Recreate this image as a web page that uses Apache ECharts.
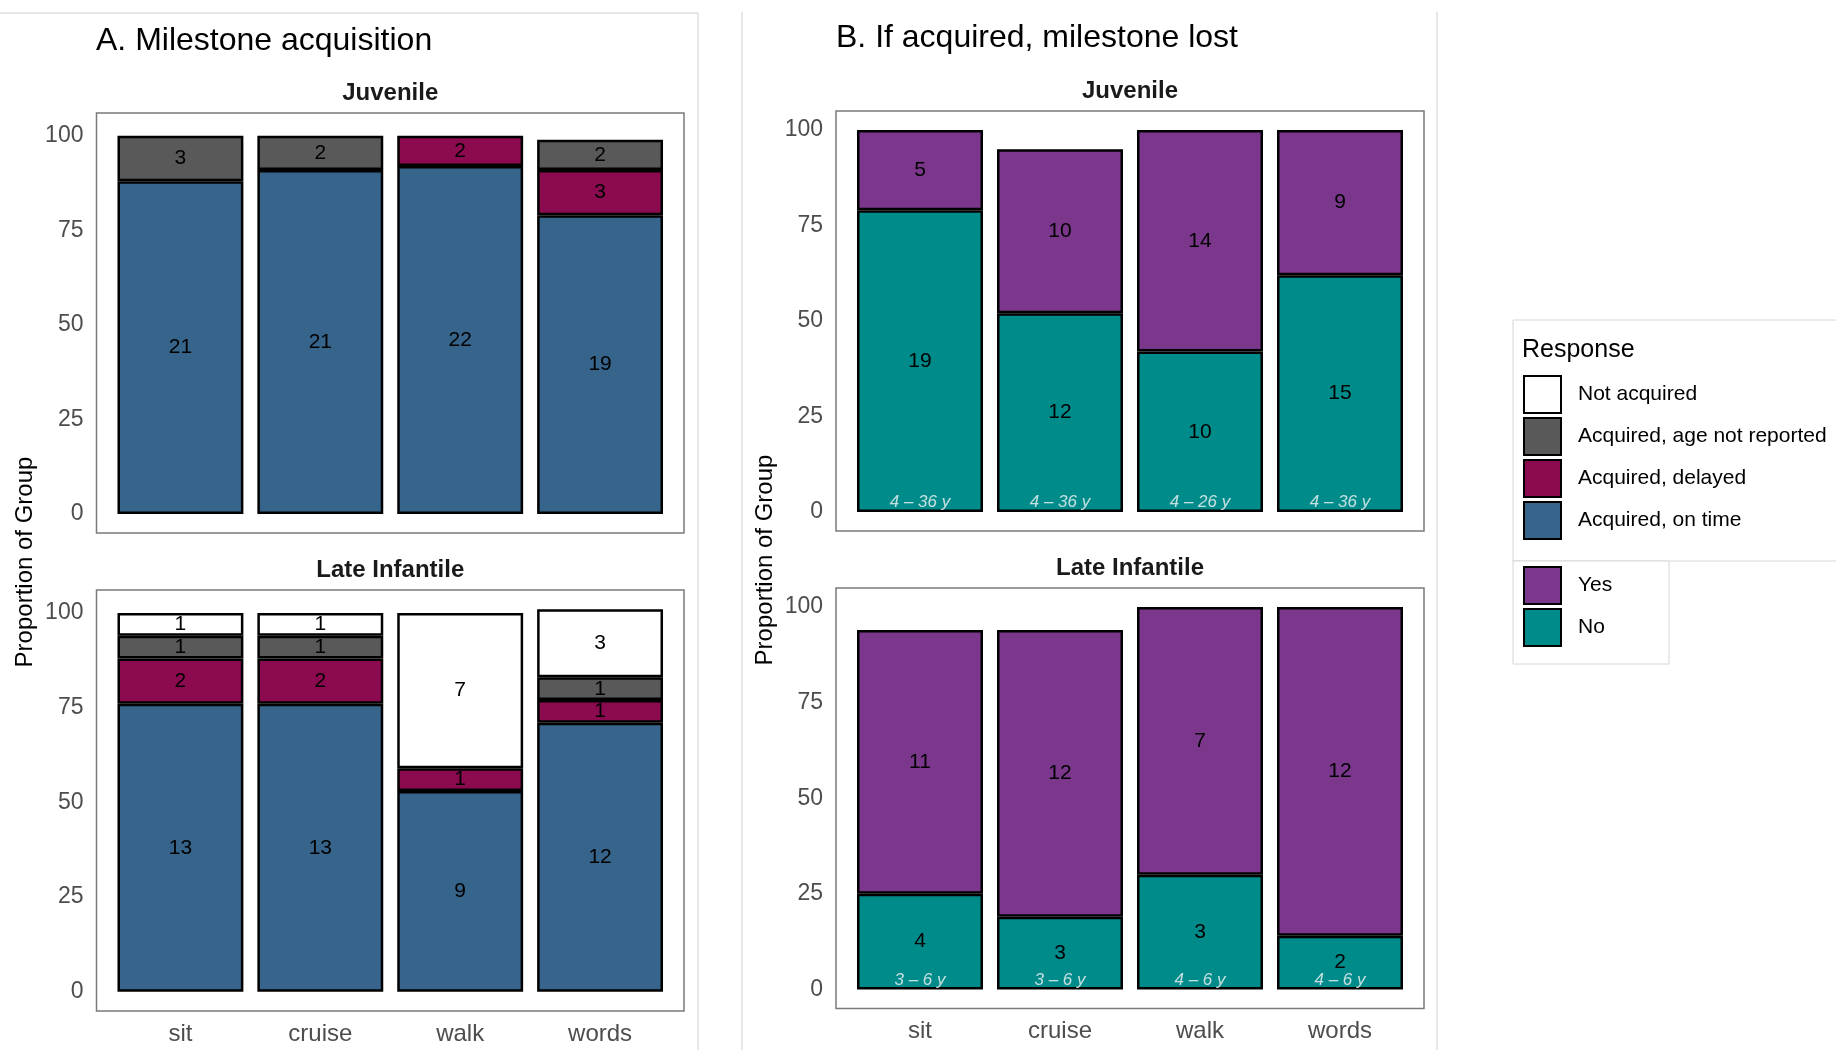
<!DOCTYPE html>
<html>
<head>
<meta charset="utf-8">
<script src="https://cdn.jsdelivr.net/npm/echarts@6/dist/echarts.min.js"></script>
<style>
  html, body { margin: 0; padding: 0; background: #ffffff; }
  #chart { width: 1836px; height: 1050px; }
</style>
</head>
<body>
<div id="chart"></div>
<script>
// ---------------- DATA ----------------
const categories = ['sit', 'cruise', 'walk', 'words'];
const yTicks = [0, 25, 50, 75, 100];

// Panel A: milestone acquisition (percent of group, and counts shown in bars)
const aJuvOnTimePct   = [88, 91, 92, 79];
const aJuvOnTimeN     = [21, 21, 22, 19];
const aJuvDelayedPct  = [null, null, 8, 12];
const aJuvDelayedN    = [null, null, 2, 3];
const aJuvNoAgePct    = [12, 9, null, 8];
const aJuvNoAgeN      = [3, 2, null, 2];
const aJuvNotAcqPct   = [null, null, null, null];
const aJuvNotAcqN     = [null, null, null, null];

const aLiOnTimePct    = [76, 76, 53, 71];
const aLiOnTimeN      = [13, 13, 9, 12];
const aLiDelayedPct   = [12, 12, 6, 6];
const aLiDelayedN     = [2, 2, 1, 1];
const aLiNoAgePct     = [6, 6, null, 6];
const aLiNoAgeN       = [1, 1, null, 1];
const aLiNotAcqPct    = [6, 6, 41, 18];
const aLiNotAcqN      = [1, 1, 7, 3];

// Panel B: if acquired, milestone lost
const bJuvNoPct  = [79, 52, 42, 62];
const bJuvNoN    = [19, 12, 10, 15];
const bJuvYesPct = [21, 43, 58, 38];
const bJuvYesN   = [5, 10, 14, 9];
const bJuvAges   = ['4 – 36 y', '4 – 36 y', '4 – 26 y', '4 – 36 y'];

const bLiNoPct   = [25, 19, 30, 14];
const bLiNoN     = [4, 3, 3, 2];
const bLiYesPct  = [69, 75, 70, 86];
const bLiYesN    = [11, 12, 7, 12];
const bLiAges    = ['3 – 6 y', '3 – 6 y', '4 – 6 y', '4 – 6 y'];

const legendA = ['Not acquired', 'Acquired, age not reported', 'Acquired, delayed', 'Acquired, on time'];
const legendB = ['Yes', 'No'];

// ---------------- STYLE / LAYOUT ----------------
const FONT = "'Liberation Sans', Arial, Helvetica, sans-serif";
const COLORS = {
  'Not acquired': '#ffffff',
  'Acquired, age not reported': '#595959',
  'Acquired, delayed': '#8b0a50',
  'Acquired, on time': '#36648b',
  'Yes': '#7a378b',
  'No': '#008b8b'
};
// panel frames (x0, x1, y0, y1) and y ranges
const panels = [
  { x0: 96.5, x1: 684,  y0: 113, y1: 533,   ymin: -5.05, ymax: 106.05, showX: false, strip: 'Juvenile' },
  { x0: 96.5, x1: 684,  y0: 590, y1: 1011,  ymin: -5.05, ymax: 106.05, showX: true,  strip: 'Late Infantile' },
  { x0: 836,  x1: 1424, y0: 111, y1: 531,   ymin: -5,    ymax: 105,    showX: false, strip: 'Juvenile' },
  { x0: 836,  x1: 1424, y0: 588, y1: 1008.5,ymin: -5,    ymax: 105,    showX: true,  strip: 'Late Infantile' }
];
const AGE_LABEL_Y = 2.5;

const grids = [], xAxes = [], yAxes = [], graphics = [];
panels.forEach((p, i) => {
  const band = (p.x1 - p.x0) / 4.2;
  grids.push({
    left: p.x0 + 0.1 * band, top: p.y0, width: 4 * band, height: p.y1 - p.y0,
    containLabel: false, outerBoundsMode: 'none'
  });
  xAxes.push({
    type: 'category', gridIndex: i, data: categories,
    axisLine: { show: false }, axisTick: { show: false }, splitLine: { show: false },
    axisLabel: { show: p.showX, color: '#4d4d4d', fontSize: 24, fontFamily: FONT, margin: 11 }
  });
  yAxes.push({
    type: 'value', gridIndex: i, min: p.ymin, max: p.ymax,
    axisLine: { show: false }, axisTick: { show: false }, splitLine: { show: false },
    axisLabel: { customValues: yTicks, color: '#4d4d4d', fontSize: 23, fontFamily: FONT, margin: 27, padding: [7, 0, 0, 0] }
  });
  graphics.push({
    type: 'rect', silent: true, z: 0,
    shape: { x: p.x0, y: p.y0, width: p.x1 - p.x0, height: p.y1 - p.y0 },
    style: { fill: 'none', stroke: '#7a7a7a', lineWidth: 1.5 }
  });
  graphics.push({
    type: 'text', x: (p.x0 + p.x1) / 2, y: p.y0 - 20,
    style: { text: p.strip, fill: '#1a1a1a', font: 'bold 24px ' + FONT, textAlign: 'center', textVerticalAlign: 'middle' }
  });
});

function barSeries(name, pct, counts, g) {
  return {
    type: 'bar', name: name, xAxisIndex: g, yAxisIndex: g, stack: 'stack' + g,
    barWidth: '90%',
    data: pct,
    itemStyle: { color: COLORS[name], borderColor: '#000', borderWidth: 2.5 },
    label: {
      show: true, position: 'inside', color: '#000', fontSize: 21, fontFamily: FONT,
      formatter: (d) => (counts[d.dataIndex] == null ? '' : String(counts[d.dataIndex]))
    },
    emphasis: { disabled: true }
  };
}
function ageSeries(ages, g) {
  return {
    type: 'scatter', name: 'age' + g, xAxisIndex: g, yAxisIndex: g,
    data: categories.map((c, i) => [i, AGE_LABEL_Y]),
    symbolSize: 1, itemStyle: { color: 'rgba(0,0,0,0)' }, z: 5,
    label: {
      show: true, position: 'inside', color: '#f5f5f5', fontSize: 17, fontStyle: 'italic', fontFamily: FONT,
      formatter: (d) => ages[d.dataIndex]
    },
    emphasis: { disabled: true }
  };
}

const series = [
  barSeries('Acquired, on time', aJuvOnTimePct, aJuvOnTimeN, 0),
  barSeries('Acquired, delayed', aJuvDelayedPct, aJuvDelayedN, 0),
  barSeries('Acquired, age not reported', aJuvNoAgePct, aJuvNoAgeN, 0),
  barSeries('Not acquired', aJuvNotAcqPct, aJuvNotAcqN, 0),

  barSeries('Acquired, on time', aLiOnTimePct, aLiOnTimeN, 1),
  barSeries('Acquired, delayed', aLiDelayedPct, aLiDelayedN, 1),
  barSeries('Acquired, age not reported', aLiNoAgePct, aLiNoAgeN, 1),
  barSeries('Not acquired', aLiNotAcqPct, aLiNotAcqN, 1),

  barSeries('No', bJuvNoPct, bJuvNoN, 2),
  barSeries('Yes', bJuvYesPct, bJuvYesN, 2),
  barSeries('No', bLiNoPct, bLiNoN, 3),
  barSeries('Yes', bLiYesPct, bLiYesN, 3),

  ageSeries(bJuvAges, 2),
  ageSeries(bLiAges, 3)
];

// titles, axis titles, separators, legend boxes
graphics.push(
  { type: 'text', x: 96, y: 41, style: { text: 'A. Milestone acquisition', fill: '#000', font: '32px ' + FONT, textAlign: 'left', textVerticalAlign: 'middle' } },
  { type: 'text', x: 836, y: 38, style: { text: 'B. If acquired, milestone lost', fill: '#000', font: '32px ' + FONT, textAlign: 'left', textVerticalAlign: 'middle' } },
  { type: 'text', x: 25, y: 562, rotation: Math.PI / 2, style: { text: 'Proportion of Group', fill: '#000', font: '24px ' + FONT, textAlign: 'center', textVerticalAlign: 'middle' } },
  { type: 'text', x: 765, y: 560, rotation: Math.PI / 2, style: { text: 'Proportion of Group', fill: '#000', font: '24px ' + FONT, textAlign: 'center', textVerticalAlign: 'middle' } },
  { type: 'line', shape: { x1: 0, y1: 13, x2: 698, y2: 13 }, style: { stroke: '#cfcfcf', lineWidth: 1 } },
  { type: 'line', shape: { x1: 698, y1: 13, x2: 698, y2: 1050 }, style: { stroke: '#cfcfcf', lineWidth: 1 } },
  { type: 'line', shape: { x1: 742, y1: 12, x2: 742, y2: 1050 }, style: { stroke: '#cfcfcf', lineWidth: 1 } },
  { type: 'line', shape: { x1: 1437, y1: 12, x2: 1437, y2: 1050 }, style: { stroke: '#cfcfcf', lineWidth: 1 } },
  { type: 'rect', shape: { x: 1513, y: 320, width: 340, height: 241 }, style: { fill: 'none', stroke: '#d6d6d6', lineWidth: 1 } },
  { type: 'rect', shape: { x: 1513, y: 561, width: 156, height: 103 }, style: { fill: '#fff', stroke: '#d6d6d6', lineWidth: 1 } },
  { type: 'text', x: 1522, y: 350, style: { text: 'Response', fill: '#000', font: '25px ' + FONT, textAlign: 'left', textVerticalAlign: 'middle' } }
);

const legendCommon = {
  orient: 'vertical', icon: 'rect', itemWidth: 37, itemHeight: 37, itemGap: 3, padding: 0,
  selectedMode: false,
  textStyle: { fontSize: 21, color: '#000', fontFamily: FONT, padding: [4, 0, 0, 12] }
};

const option = {
  animation: false,
  backgroundColor: '#ffffff',
  textStyle: { fontFamily: FONT },
  grid: grids,
  xAxis: xAxes,
  yAxis: yAxes,
  legend: [
    Object.assign({}, legendCommon, { left: 1523, top: 375, data: legendA }),
    Object.assign({}, legendCommon, { left: 1523, top: 566, data: legendB })
  ],
  graphic: graphics,
  series: series
};

const chart = echarts.init(document.getElementById('chart'), null, { renderer: 'canvas' });
chart.setOption(option);
</script>
</body>
</html>
